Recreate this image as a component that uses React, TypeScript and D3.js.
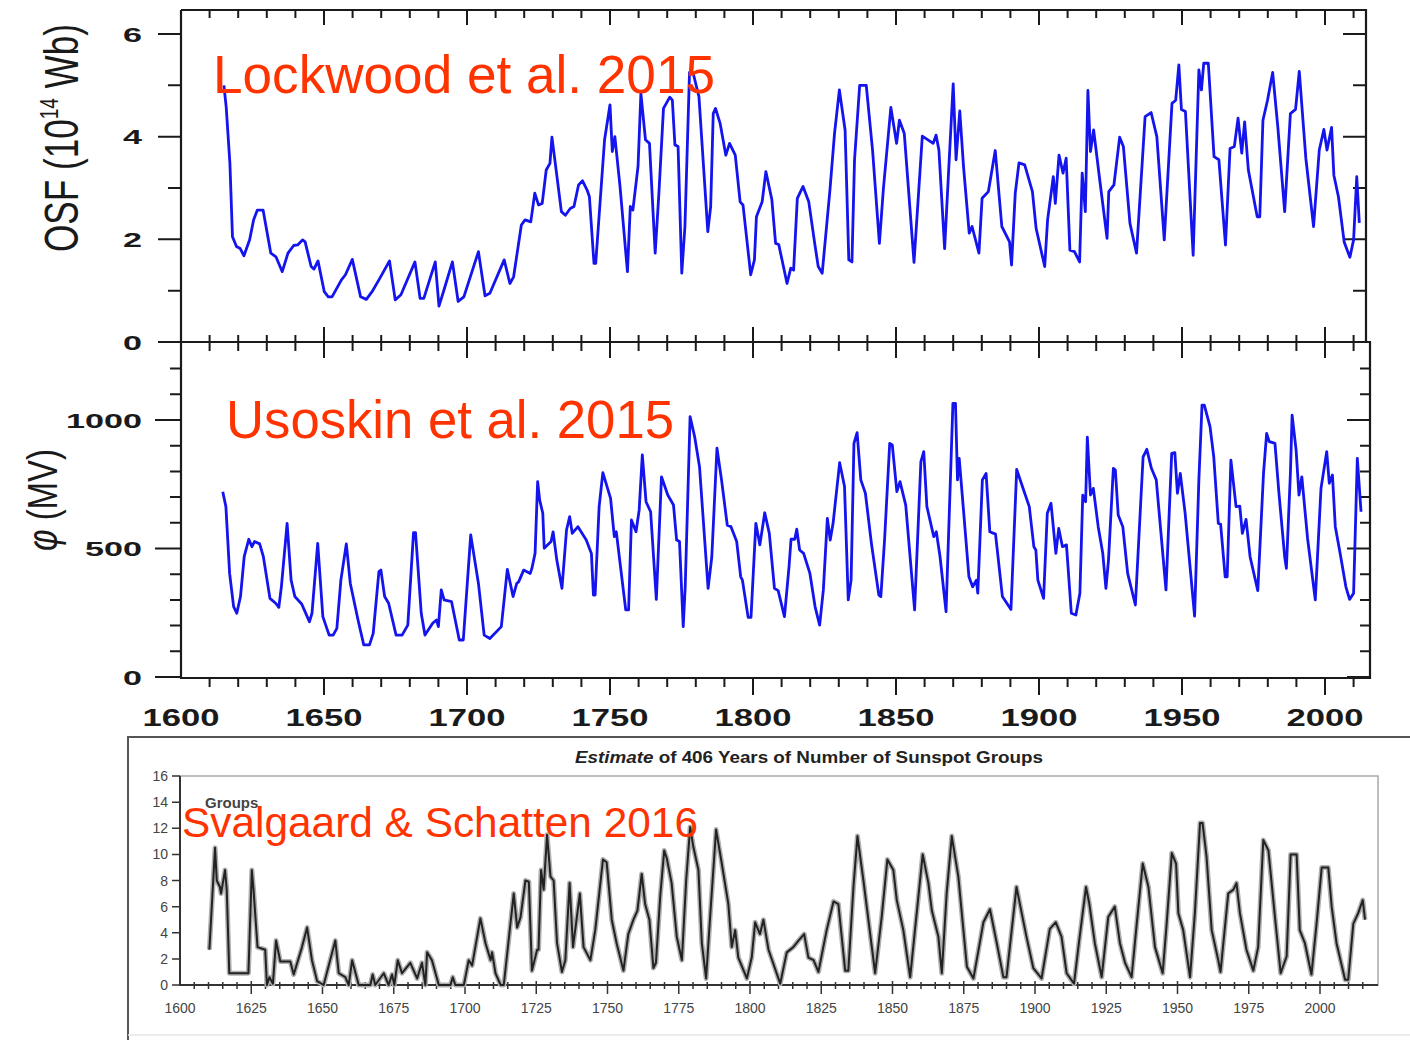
import * as d3 from "d3";

// Lockwood et al. 2015 – open solar flux (10^14 Wb)
const osfYears = [
  1615, 1615.8, 1617.1, 1618, 1619.4, 1620.7, 1622, 1624, 1625.4, 1626.7, 1628.7, 1631.4, 1633.2, 1635.4,
  1637.4, 1639.4, 1640.8, 1642.5, 1643.4, 1645.5, 1646.5, 1647.9, 1650.1, 1651.5, 1652.8, 1656.1, 1657.5,
  1659.9, 1662.8, 1664.8, 1666.8, 1669.5, 1672.9, 1674.9, 1676.9, 1681.8, 1683.6, 1684.9, 1688.9, 1690.2,
  1691.6, 1694.9, 1696.9, 1698.9, 1704, 1706.3, 1708, 1713, 1715, 1716.3, 1719, 1720.3, 1722.3, 1723.7,
  1725, 1726.3, 1727.7, 1729, 1729.7, 1731, 1733, 1734.4, 1736.1, 1737.4, 1739, 1740.4, 1742, 1742.8,
  1744.4, 1745, 1748.1, 1750, 1750.8, 1751.7, 1753.5, 1756.1, 1757.1, 1758, 1759.8, 1760.8, 1762.4,
  1763.8, 1765.8, 1767.1, 1768.7, 1770.9, 1771.8, 1772.7, 1773.8, 1775.1, 1776.2, 1777.8, 1779.1, 1781.1,
  1784.2, 1785.2, 1786.1, 1786.9, 1788.5, 1790.5, 1791.8, 1793.8, 1795.5, 1796.5, 1799.2, 1800.5, 1801.2,
  1803.2, 1804.5, 1806.6, 1807.9, 1809, 1811.9, 1813.2, 1814.2, 1815.5, 1817.5, 1819.5, 1821.5, 1822.8,
  1824.2, 1826.9, 1828.5, 1830.2, 1832.2, 1833.5, 1834.6, 1835.5, 1837.3, 1838.6, 1839.6, 1841.8, 1844.2,
  1845.6, 1848.2, 1850.2, 1851.2, 1852.9, 1856.3, 1859.2, 1863, 1864, 1865, 1867, 1868.3, 1870, 1871,
  1872.3, 1873.6, 1875.6, 1876.6, 1879, 1880.1, 1882.3, 1884.7, 1887, 1889.7, 1890.4, 1891.7, 1893, 1895,
  1897.7, 1899, 1902, 1903, 1905, 1905.7, 1907, 1908.4, 1909.5, 1910.8, 1912.4, 1914.2, 1915.1, 1916.2,
  1917.1, 1918, 1919.1, 1921.1, 1923.8, 1924.4, 1926.2, 1928.2, 1929.5, 1931.8, 1934.1, 1937.1, 1939.2,
  1941.2, 1943.8, 1946.5, 1947.8, 1948.9, 1949.8, 1951.2, 1953.9, 1955.9, 1956.8, 1957.6, 1959.2, 1961.2,
  1962.9, 1965.2, 1966.8, 1968.3, 1969.6, 1970.9, 1971.9, 1973.2, 1976.3, 1977.2, 1978.3, 1979.9, 1981.7,
  1983.5, 1985.9, 1987.9, 1989.7, 1991, 1993.3, 1996, 1998, 1999.6, 2000.7, 2002.3, 2003.1, 2004.7,
  2006.7, 2008.7, 2010, 2011.1, 2012,
];
const osfValues = [
  5.0, 4.58, 3.48, 2.05, 1.86, 1.82, 1.68, 1.99, 2.38, 2.57, 2.57, 1.73, 1.66, 1.37, 1.73, 1.88, 1.89, 1.99,
  1.95, 1.47, 1.42, 1.58, 0.98, 0.88, 0.88, 1.21, 1.31, 1.61, 0.88, 0.83, 0.98, 1.24, 1.58, 0.82, 0.92,
  1.56, 0.85, 0.85, 1.56, 0.7, 0.95, 1.56, 0.79, 0.88, 1.76, 0.9, 0.95, 1.6, 1.14, 1.27, 2.28, 2.38, 2.34,
  2.9, 2.67, 2.7, 3.35, 3.48, 3.99, 3.42, 2.54, 2.47, 2.6, 2.64, 3.06, 3.14, 2.96, 2.83, 1.53, 1.53, 3.94,
  4.62, 3.71, 4.0, 3.03, 1.37, 2.64, 2.57, 3.42, 4.84, 3.94, 3.87, 1.73, 2.9, 4.55, 4.77, 4.71, 3.84,
  3.81, 1.34, 2.25, 5.25, 5.23, 4.78, 2.15, 2.64, 4.45, 4.55, 4.26, 3.64, 3.87, 3.64, 2.73, 2.67, 1.31,
  1.6, 2.44, 2.73, 3.32, 2.77, 1.92, 1.9, 1.14, 1.44, 1.4, 2.8, 3.03, 2.73, 1.95, 1.47, 1.34, 2.96, 4.06,
  4.91, 4.13, 1.6, 1.56, 3.55, 5.0, 5.0, 5.0, 3.74, 1.92, 2.99, 4.57, 3.87, 4.32, 4.06, 1.55, 4.01, 3.87,
  4.03, 3.74, 1.82, 3.22, 5.03, 3.55, 4.5, 3.42, 2.12, 2.25, 1.73, 2.8, 2.93, 3.73, 2.25, 1.95, 1.5, 2.9,
  3.49, 3.45, 2.93, 2.21, 1.47, 2.38, 3.22, 2.7, 3.64, 3.29, 3.58, 1.79, 1.76, 1.56, 3.29, 2.54, 4.9,
  3.71, 4.13, 3.22, 2.02, 2.93, 3.06, 3.99, 3.81, 2.31, 1.73, 4.39, 4.47, 4.0, 1.99, 4.65, 4.71, 5.4,
  4.53, 4.49, 1.69, 5.3, 4.91, 5.43, 5.43, 3.61, 3.55, 1.89, 3.77, 3.81, 4.36, 3.68, 4.29, 3.35, 2.44,
  2.44, 4.32, 4.71, 5.25, 4.19, 2.54, 4.45, 4.53, 5.27, 3.58, 2.25, 3.74, 4.14, 3.74, 4.18, 3.25, 2.83,
  1.95, 1.65, 1.99, 3.22, 2.32,
];

// Usoskin et al. 2015 – modulation potential (MV)
const phiYears = [
  1614.6, 1615.7, 1617, 1618.4, 1619.5, 1620.8, 1622.1, 1623.7, 1624.8, 1625.7, 1627.5, 1628.8, 1631.1,
  1633.1, 1634.2, 1635.1, 1637.1, 1638.5, 1639.8, 1642.2, 1643.1, 1644.9, 1645.8, 1647.8, 1649.6, 1651.8,
  1653.2, 1654.5, 1655.9, 1657.8, 1659.2, 1661.9, 1663.9, 1665.9, 1667.2, 1669.2, 1669.9, 1671.2, 1672.6,
  1675.2, 1677.3, 1679.3, 1681.3, 1682, 1684, 1685.3, 1688, 1689.3, 1690, 1691, 1692, 1694.6, 1697.3,
  1698.7, 1701.3, 1704, 1706, 1708, 1712, 1714.1, 1716.1, 1717.4, 1718.1, 1719.8, 1722.1, 1722.7, 1723.8,
  1724.7, 1725.4, 1726.5, 1727, 1729.4, 1730.1, 1731.4, 1733.2, 1734.8, 1735.9, 1736.8, 1738.8, 1741.7,
  1743.5, 1744.2, 1744.8, 1746.2, 1747.5, 1750.2, 1751.5, 1752.2, 1755.5, 1756.5, 1757.5, 1759.1, 1760.2,
  1761.3, 1762.6, 1764.2, 1766.2, 1768, 1770.2, 1772.2, 1773.3, 1774.3, 1775.6, 1776.3, 1778, 1779.6,
  1781.3, 1784.3, 1785.6, 1787.4, 1789, 1791, 1792.3, 1794.3, 1795.7, 1796.3, 1798.3, 1799.3, 1801, 1802.4,
  1804.1, 1805.7, 1807.5, 1808.8, 1811, 1812.6, 1813.3, 1814.6, 1815.3, 1816.3, 1817.7, 1819.9, 1821.7,
  1823.3, 1824.6, 1826, 1827, 1828, 1830.3, 1832, 1833.3, 1834.3, 1835.3, 1836.4, 1837.7, 1839.3, 1841.4,
  1844, 1844.7, 1846, 1847.8, 1848.7, 1850.3, 1851.4, 1853.4, 1856.5, 1858.7, 1859.7, 1860.8, 1863.2,
  1864.1, 1865.4, 1867.5, 1869.9, 1870.8, 1871.5, 1872.1, 1873.5, 1875.5, 1876.8, 1878.1, 1878.6, 1880.2,
  1881.5, 1882.8, 1884.8, 1887.2, 1890.2, 1892.2, 1894.2, 1896.6, 1898.2, 1898.9, 1899.6, 1901.6, 1902.9,
  1904.2, 1905.9, 1906.9, 1908.2, 1909.6, 1911.3, 1912.9, 1914.3, 1915.3, 1916.3, 1916.9, 1918, 1919,
  1920.7, 1922.3, 1923.4, 1924.3, 1926, 1926.7, 1927.7, 1929.3, 1931, 1933.7, 1936.4, 1937.7, 1939.3,
  1941, 1944.4, 1946.4, 1947.5, 1948.4, 1949.4, 1951.1, 1954.4, 1955.9, 1957, 1957.8, 1959.8, 1961.1,
  1962.7, 1963.5, 1965.1, 1965.8, 1967.1, 1968.9, 1970.2, 1971.1, 1972.4, 1973.8, 1976.5, 1978.5, 1979.6,
  1980.5, 1982.5, 1983.9, 1985.9, 1986.5, 1987.9, 1988.5, 1989.9, 1990.9, 1991.9, 1993.9, 1996.6, 1998.6,
  2000.6, 2001.5, 2002.6, 2003.6, 2005.3, 2007.3, 2008.6, 2010, 2011.3, 2012.6,
];
const phiValues = [
  721, 663, 403, 274, 248, 313, 468, 536, 507, 527, 518, 468, 306, 287, 271, 351, 598, 377, 313, 284, 261,
  215, 248, 520, 235, 163, 163, 189, 377, 518, 364, 222, 125, 125, 170, 410, 416, 313, 287, 163, 163, 202,
  562, 562, 248, 163, 209, 222, 196, 339, 300, 293, 144, 144, 553, 364, 163, 150, 196, 419, 313, 364, 371,
  416, 403, 423, 481, 760, 689, 637, 501, 527, 565, 455, 345, 572, 624, 559, 585, 533, 481, 319, 319, 663,
  795, 695, 546, 565, 261, 261, 611, 565, 650, 864, 682, 643, 302, 779, 708, 669, 533, 527, 196, 351, 1013,
  935, 818, 345, 468, 890, 767, 591, 585, 527, 390, 377, 232, 232, 598, 514, 639, 559, 345, 336, 235, 429,
  536, 536, 575, 494, 481, 403, 274, 202, 339, 617, 533, 598, 834, 741, 300, 377, 909, 951, 767, 715, 520,
  319, 313, 533, 909, 903, 721, 760, 669, 261, 838, 877, 663, 546, 565, 468, 254, 1065, 1065, 767, 851, 663,
  390, 351, 377, 326, 767, 792, 565, 556, 313, 263, 808, 741, 663, 507, 494, 377, 306, 637, 676, 481, 578,
  507, 514, 248, 241, 326, 708, 682, 933, 708, 734, 585, 481, 345, 455, 812, 805, 630, 585, 403, 280, 857,
  886, 812, 767, 339, 870, 873, 715, 792, 637, 237, 767, 1058, 1058, 974, 857, 598, 595, 390, 390, 844, 663,
  665, 559, 613, 468, 336, 792, 948, 916, 909, 715, 468, 423, 792, 1019, 883, 708, 779, 540, 300, 734, 877,
  754, 786, 585, 481, 351, 302, 326, 851, 643,
];

// Svalgaard & Schatten 2016 – number of sunspot groups
const groupYears = [
  1610.3, 1612.3, 1612.9, 1614, 1614.4, 1615.8, 1616.4, 1617.3, 1624, 1625.2, 1625.8, 1627.2, 1629.9,
  1630.5, 1631.4, 1632.6, 1633.7, 1635.2, 1638.7, 1639.9, 1642.8, 1644.6, 1646.3, 1648.1, 1650.4, 1654.5,
  1655.7, 1658, 1659.2, 1660.4, 1662.7, 1666.8, 1667.6, 1668.5, 1671.5, 1673.2, 1674.4, 1675.2, 1676.4,
  1677.9, 1680.8, 1683.2, 1684.9, 1686.1, 1686.7, 1688.4, 1690.8, 1694.9, 1695.7, 1696.6, 1699.6, 1701.3,
  1702.5, 1705.4, 1707.2, 1709, 1709.5, 1710.7, 1712.5, 1713.6, 1717.1, 1718.3, 1719.5, 1721.2, 1722.4,
  1723.5, 1725.3, 1725.8, 1726.7, 1727.6, 1728.8, 1730, 1731.1, 1732.3, 1734, 1735.2, 1736.7, 1737.9,
  1740.3, 1741.6, 1744, 1745.7, 1748.4, 1749.7, 1751.5, 1753.2, 1755.6, 1757.3, 1759.1, 1760.5, 1762,
  1763.2, 1764.7, 1766.1, 1767, 1768.5, 1769.9, 1770.8, 1772.5, 1774.3, 1776.1, 1777.6, 1779, 1780.1,
  1781.9, 1783.1, 1784.6, 1786, 1788.1, 1790.1, 1792.4, 1793.6, 1794.8, 1795.9, 1798.9, 1800.6, 1801.8,
  1803.5, 1804.7, 1806.5, 1810.6, 1812.9, 1815.2, 1817, 1819, 1820.5, 1822.3, 1824, 1826.9, 1829.3, 1831,
  1833.4, 1834.5, 1836.3, 1837.7, 1839.8, 1843.9, 1846.2, 1848.2, 1850.3, 1851.5, 1853.8, 1856.2, 1859.1,
  1860.6, 1862.6, 1863.8, 1866.1, 1867.3, 1869, 1870.8, 1873.1, 1876.1, 1878.4, 1881.9, 1884.2, 1886.6,
  1888.9, 1890, 1893.5, 1897, 1899.4, 1902.3, 1905.2, 1907.3, 1909.3, 1911.1, 1913.7, 1915.5, 1917.9,
  1919, 1921, 1923.4, 1925.7, 1928, 1929.8, 1931.6, 1933.9, 1935.7, 1937.8, 1939.8, 1942.1, 1944.8,
  1946.2, 1948, 1949.5, 1950.3, 1952, 1954.4, 1956.1, 1957.9, 1958.8, 1960.2, 1962, 1964.3, 1965.1,
  1967.8, 1969.6, 1970.7, 1971.9, 1974.2, 1976.6, 1978.3, 1980.1, 1981.9, 1984.2, 1986.2, 1988.3, 1989.7,
  1991.8, 1992.9, 1994.7, 1997, 1998.8, 2000.6, 2002.9, 2004.1, 2005.8, 2008.8, 2009.9, 2011.7, 2013.4,
  2015, 2015.8,
];
const groupValues = [
  2.7, 10.5, 8.0, 7.5, 7.0, 8.8, 7.3, 0.9, 0.9, 8.8, 7.3, 2.9, 2.7, 0, 0.6, 0.1, 3.4, 1.8, 1.8, 0.8, 2.9,
  4.4, 1.9, 0.3, 0, 3.4, 0.9, 0.6, 0, 1.9, 0, 0, 0.8, 0, 0.9, 0, 0.8, 0, 1.9, 0.9, 1.7, 0.5, 1.7, 0, 2.5,
  1.9, 0, 0, 0.6, 0, 0, 1.9, 1.5, 5.1, 3.2, 1.9, 2.5, 0.9, 0, 0, 7.0, 4.4, 5.2, 8.0, 7.9, 1.1, 2.7, 2.7,
  8.8, 7.3, 11.5, 8.3, 8.0, 3.2, 1.0, 1.9, 7.8, 2.9, 7.0, 2.9, 1.9, 4.2, 9.6, 9.4, 5.0, 3.2, 1.1, 3.9, 5.0,
  5.7, 8.5, 6.2, 5.0, 1.3, 1.7, 6.8, 10.3, 9.7, 7.8, 3.7, 1.9, 8.0, 12.1, 10.6, 8.8, 3.2, 0.5, 5.2, 11.9,
  9.3, 6.2, 2.9, 4.2, 2.1, 0.5, 2.1, 4.8, 3.9, 5.0, 2.7, 0.1, 2.5, 2.9, 3.4, 3.9, 2.1, 1.9, 1.0, 4.2, 6.4,
  6.2, 1.1, 1.1, 7.5, 11.4, 8.0, 0.9, 5.2, 9.6, 8.8, 6.5, 4.2, 0.6, 6.8, 10.0, 7.8, 5.7, 3.7, 0.9, 7.0,
  11.4, 8.3, 1.4, 0.5, 4.8, 5.8, 3.2, 0.6, 0.6, 7.5, 3.7, 1.3, 0.5, 4.3, 4.8, 3.7, 0.9, 0.1, 3.4, 7.5, 6.3,
  3.2, 0.6, 5.2, 6.0, 3.2, 1.7, 0.6, 4.7, 9.3, 7.5, 2.9, 0.9, 4.7, 10.1, 9.3, 5.5, 4.2, 0.6, 5.5, 12.4,
  12.4, 9.8, 4.2, 1.9, 1.0, 7.0, 7.3, 7.8, 5.5, 2.7, 1.1, 2.9, 11.1, 10.3, 5.2, 0.9, 2.2, 10.0, 10.0, 4.2,
  3.2, 0.8, 4.7, 9.0, 9.0, 6.0, 3.2, 0.4, 0.4, 4.7, 5.5, 6.5, 5.0,
];

const yearLabels = [1600, 1650, 1700, 1750, 1800, 1850, 1900, 1950, 2000];
const osfLabels = [0, 2, 4, 6];
const phiLabels = [0, 500, 1000];
const groupYLabels = [0, 2, 4, 6, 8, 10, 12, 14, 16];
const groupXLabels = [1600, 1625, 1650, 1675, 1700, 1725, 1750, 1775, 1800, 1825, 1850, 1875, 1900, 1925, 1950, 1975, 2000];

const FONT = "'Liberation Sans', Arial, Helvetica, sans-serif";
const RED = "#ff3300";
const BLUE = "#1414ee";
const INK = "#1a1a1a";

export default function App() {
  // upper two panels share one year axis
  const x = d3.scaleLinear().domain([1600, 2000]).range([181, 1325]);
  const yOsf = d3.scaleLinear().domain([0, 6]).range([342, 34]);
  const yPhi = d3.scaleLinear().domain([0, 1000]).range([677, 420]);
  // embedded group-number chart
  const xG = d3.scaleLinear().domain([1600, 2000]).range([180, 1320]);
  const yG = d3.scaleLinear().domain([0, 16]).range([985, 776]);

  const osfLine = d3
    .line<number>()
    .x((_, i) => x(osfYears[i]))
    .y((d) => yOsf(d));
  const phiLine = d3
    .line<number>()
    .x((_, i) => x(phiYears[i]))
    .y((d) => yPhi(d));
  const groupLine = d3
    .line<number>()
    .x((_, i) => xG(groupYears[i]))
    .y((d) => yG(d));

  const osfRight = 1366;
  const phiRight = 1370;
  const decades = d3.range(1610, 2011, 10);

  // tick paths
  let tickPath = "";
  decades.forEach((yr) => {
    const px = x(yr);
    const major = yr % 50 === 0;
    tickPath += `M${px},10v${major ? 15 : 8}`;
    tickPath += `M${px},${major ? 327 : 335}V${major ? 358 : 351}`;
    tickPath += `M${px},678v${major ? 17 : 9}`;
  });
  d3.range(0, 7).forEach((v) => {
    const py = yOsf(v);
    const len = v % 2 === 0 ? 23 : 13;
    tickPath += `M181,${py}h${-len}`;
    tickPath += `M${osfRight},${py}h${-len}`;
  });
  d3.range(0, 1300, 100).forEach((v) => {
    const py = yPhi(v);
    const major = v % 500 === 0;
    tickPath += `M181,${py}h${major ? -26 : -11}`;
    tickPath += `M${phiRight},${py}h${major ? -23 : -10}`;
  });

  let gTicks = "";
  d3.range(1605, 2020, 5).forEach((yr) => {
    const px = xG(yr);
    gTicks += yr % 25 === 0 ? `M${px},981V994` : `M${px},982V989`;
  });
  groupYLabels.forEach((v) => {
    gTicks += `M172,${yG(v)}H180`;
  });

  return (
    <svg
      width={1410}
      height={1040}
      style={{ position: "absolute", left: 0, top: 0, background: "#fff" }}
      fontFamily={FONT}
    >
      <rect width={1410} height={1040} fill="#fff" />

      {/* panel frames */}
      <path
        d={`M181,10H${osfRight}V342M181,10V678H${phiRight}V342H181`}
        fill="none"
        stroke={INK}
        strokeWidth={2.2}
      />
      <path d={tickPath} stroke={INK} strokeWidth={2} fill="none" />

      {/* data */}
      <path d={osfLine(osfValues) ?? ""} fill="none" stroke={BLUE} strokeWidth={2.8} strokeLinejoin="round" />
      <path d={phiLine(phiValues) ?? ""} fill="none" stroke={BLUE} strokeWidth={2.8} strokeLinejoin="round" />

      {/* y tick labels */}
      {osfLabels.map((v) => (
        <text key={"o" + v} x={142} y={yOsf(v) + 7.5} fontSize={21} fontWeight="bold" fill={INK}
          textAnchor="end" textLength={19} lengthAdjust="spacingAndGlyphs">
          {v}
        </text>
      ))}
      {phiLabels.map((v) => (
        <text key={"p" + v} x={142} y={yPhi(v) + 7.5} fontSize={21} fontWeight="bold" fill={INK}
          textAnchor="end" textLength={String(v).length * 19} lengthAdjust="spacingAndGlyphs">
          {v}
        </text>
      ))}
      {/* x tick labels */}
      {yearLabels.map((v) => (
        <text key={"y" + v} x={x(v)} y={726} fontSize={24} fontWeight="bold" fill={INK}
          textAnchor="middle" textLength={77} lengthAdjust="spacingAndGlyphs">
          {v}
        </text>
      ))}

      {/* axis titles */}
      <text transform="translate(78,138) rotate(-90)" fontSize={48} fill={INK} textAnchor="middle"
        textLength={228} lengthAdjust="spacingAndGlyphs">
        OSF (10
        <tspan fontSize={26} dy={-20}>14</tspan>
        <tspan dy={20}> Wb)</tspan>
      </text>
      <text transform="translate(57,500) rotate(-90)" fontSize={42} fill={INK} textAnchor="middle"
        textLength={102} lengthAdjust="spacingAndGlyphs">
        <tspan fontStyle="italic">φ</tspan> (MV)
      </text>

      {/* bottom embedded chart */}
      <path d="M128,1040V737H1410" fill="none" stroke="#555" strokeWidth={2} />
      <path d="M128,1035H1410" fill="none" stroke="#e6e6e6" strokeWidth={1.5} />
      <rect x={180} y={776} width={1198} height={209} fill="none" stroke="#a8a8a8" strokeWidth={1.5} />
      <path d="M180,776V985H1378" fill="none" stroke="#333" strokeWidth={2} />
      <path d={gTicks} stroke="#333" strokeWidth={1.5} fill="none" />
      <text x={809} y={763} fontSize={16} fontWeight="bold" fill="#222" textAnchor="middle"
        textLength={468} lengthAdjust="spacingAndGlyphs">
        <tspan fontStyle="italic">Estimate</tspan> of 406 Years of Number of Sunspot Groups
      </text>
      {groupYLabels.map((v) => (
        <text key={"g" + v} x={168} y={yG(v) + 5} fontSize={14} fill="#444" textAnchor="end">
          {v}
        </text>
      ))}
      {groupXLabels.map((v) => (
        <text key={"gx" + v} x={xG(v)} y={1013} fontSize={14} fill="#444" textAnchor="middle">
          {v}
        </text>
      ))}
      <text x={205} y={808} fontSize={15} fontWeight="bold" fill="#444">
        Groups
      </text>
      <path d={groupLine(groupValues) ?? ""} fill="none" stroke="#b0b0b0" strokeWidth={5} strokeLinejoin="round" />
      <path d={groupLine(groupValues) ?? ""} fill="none" stroke="#222" strokeWidth={2} strokeLinejoin="round" />

      {/* red annotations */}
      <text x={213} y={93} fontSize={53} fill={RED} textLength={502} lengthAdjust="spacingAndGlyphs">
        Lockwood et al. 2015
      </text>
      <text x={226} y={438} fontSize={53} fill={RED} textLength={448} lengthAdjust="spacingAndGlyphs">
        Usoskin et al. 2015
      </text>
      <text x={182} y={837} fontSize={42} fill={RED} textLength={516} lengthAdjust="spacingAndGlyphs">
        Svalgaard &amp; Schatten 2016
      </text>
    </svg>
  );
}
